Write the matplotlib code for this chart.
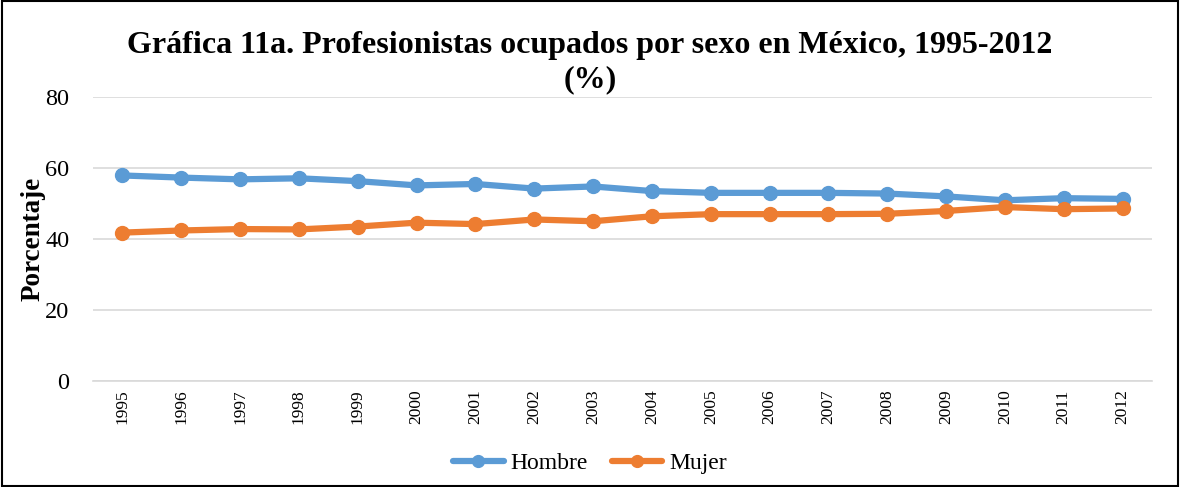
import matplotlib
matplotlib.use("Agg")
import matplotlib.pyplot as plt
from matplotlib.patches import Rectangle

years = [str(y) for y in range(1995, 2013)]
hombre = [57.9, 57.3, 56.8, 57.1, 56.3, 55.1, 55.5, 54.2, 54.8, 53.5, 53.0, 53.0, 53.0, 52.8, 52.0, 50.9, 51.5, 51.3]
mujer = [41.8, 42.4, 42.8, 42.7, 43.5, 44.6, 44.2, 45.5, 45.0, 46.4, 47.0, 47.0, 47.0, 47.1, 47.9, 49.0, 48.4, 48.6]
yticks = [0, 20, 40, 60, 80]

plt.rcParams['font.family'] = ['Liberation Serif', 'DejaVu Serif']

fig = plt.figure(figsize=(11.8, 4.87), dpi=100)
ax = fig.add_axes([93/1180, 1 - 381/487, (1152-93)/1180, (381-97)/487])

x = list(range(len(years)))
ax.plot(x, hombre, color='#5B9BD5', lw=4.5, marker='o', ms=10, label='Hombre', solid_capstyle='round')
ax.plot(x, mujer, color='#ED7D31', lw=4.5, marker='o', ms=10, label='Mujer', solid_capstyle='round')

ax.set_xlim(-0.5, len(years) - 0.5)
ax.set_ylim(0, 80)
ax.set_yticks(yticks)
ax.set_yticklabels([str(v) for v in yticks], fontsize=17.5)
ax.set_xticks(x)
ax.set_xticklabels(years, rotation=90, fontsize=12.5)
ax.grid(axis='y', color='#D9D9D9', lw=1.2)
ax.set_axisbelow(True)
for s in ['top', 'right', 'left']:
    ax.spines[s].set_visible(False)
ax.spines['bottom'].set_color('#D9D9D9')
ax.spines['bottom'].set_linewidth(1.2)
ax.tick_params(axis='y', length=0, pad=17)
ax.tick_params(axis='x', length=0, pad=6)
ax.set_ylabel('Porcentaje', fontsize=19.5, fontweight='bold', labelpad=0)

fig.text(0.5, 1 - 45/487, 'Gráfica 11a. Profesionistas ocupados por sexo en México, 1995-2012', ha='center', va='center', fontsize=23, fontweight='bold')
fig.text(0.5, 1 - 80/487, '(%)', ha='center', va='center', fontsize=23, fontweight='bold')

fig.legend(loc='center', bbox_to_anchor=(0.5, 1 - 463/487), ncol=2, frameon=False, fontsize=17,
           handlelength=2.15, columnspacing=1.0, handletextpad=0.3, markerscale=0.85)

fig.patches.append(Rectangle((0.002, 0.003), 0.996, 0.994, transform=fig.transFigure, fill=False, edgecolor='black', lw=1.5))

fig.savefig('out.png', dpi=100)
